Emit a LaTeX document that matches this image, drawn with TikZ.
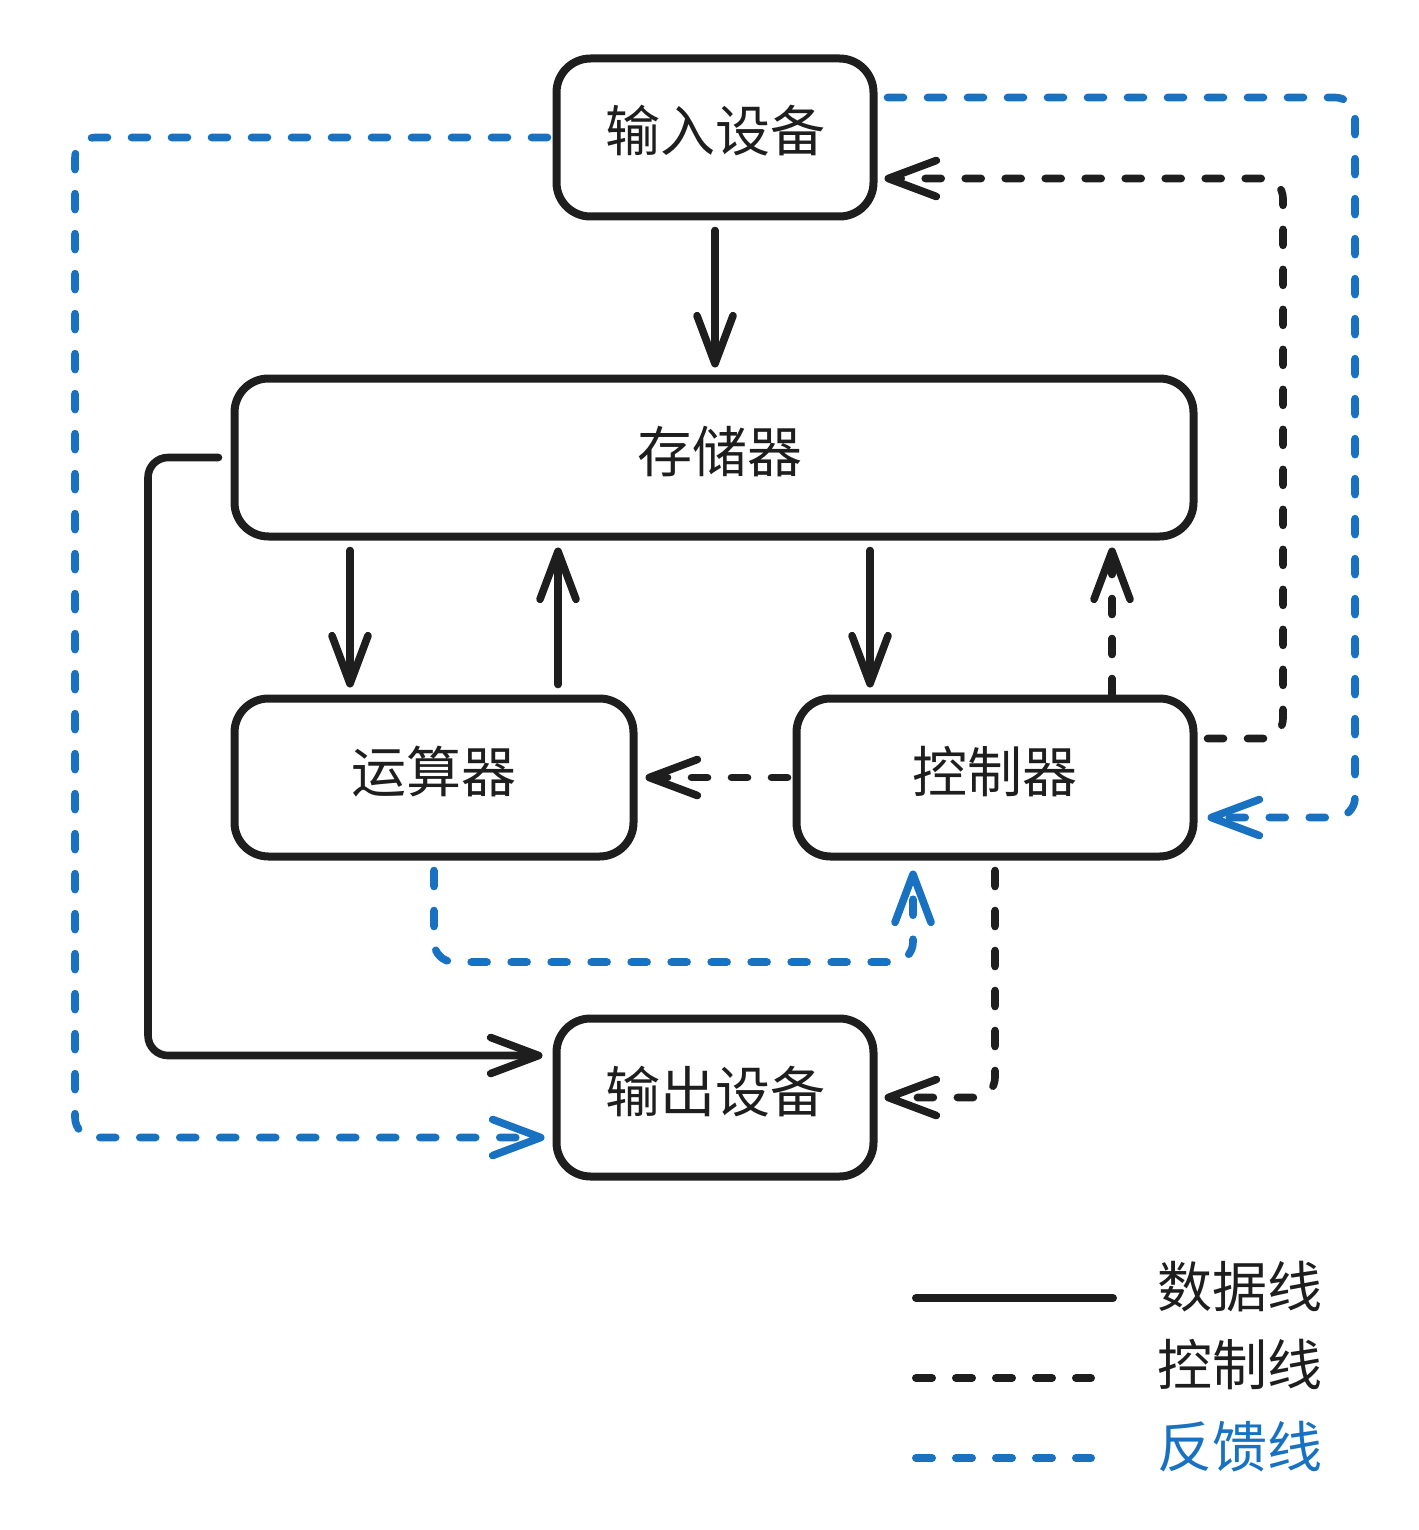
\documentclass[tikz,border=0pt]{standalone}
\usepackage{fontspec}
\newfontfamily\cjk{Noto Sans CJK SC}
\usetikzlibrary{arrows.meta,calc}
\definecolor{ink}{HTML}{1E1E1E}
\definecolor{fb}{HTML}{1971C2}
\begin{document}
\begin{tikzpicture}[x=0.5pt,y=-0.5pt,
  every node/.style={font=\cjk\fontsize{27.5pt}{30pt}\selectfont, text=ink},
  box/.style={draw=ink, fill=white, line width=4pt, rounded corners=17pt, minimum height=79pt, text height=24pt, text depth=9.5pt, inner sep=0pt},
  tip/.style={-{Straight Barb[length=24pt,width=18pt,round]}},
  link/.style={line width=3.8pt, line cap=round, line join=round, rounded corners=10pt, tip, shorten <=5pt, shorten >=3.5pt},
  data/.style={link, draw=ink},
  ctrl/.style={link, draw=ink, dash pattern=on 8pt off 12pt},
  feed/.style={link, draw=fb, dash pattern=on 8pt off 12pt},
  sample/.style={line width=4pt, line cap=round},
  legtext/.style={anchor=west, inner sep=0pt}
]
\fill[white] (0,0) rectangle (1418,1530);
\useasboundingbox (0,0) rectangle (1418,1530);

% nodes
\node[box, minimum width=158.5pt] (in)  at (715,137.5)  {输入设备};
\node[box, minimum width=479.5pt] (mem) at (714,457.5)  {\hspace*{5.5pt}存储器};
\node[box, minimum width=199.5pt] (alu) at (434,777.5)  {运算器};
\node[box, minimum width=198.5pt] (ctl) at (995,777.5)  {控制器};
\node[box, minimum width=158.5pt] (out) at (715,1097.5) {输出设备};

% data lines
\draw[data] (in.south) -- (in.south |- mem.north);
\draw[data] ($(mem.south west)+(119.5,0)$) -- ($(alu.north west)+(119.5,0)$);
\draw[data] ($(alu.north west)+(327.5,0)$) -- ($(mem.south west)+(327.5,0)$);
\draw[data] ($(mem.south west)+(639.5,0)$) -- ($(ctl.north west)+(77.5,0)$);
\draw[data, shorten <=6pt, shorten >=5pt] (mem.west) -- ++(-82.5,0) |- ($(out.west)+(0,-42)$);

% control lines
\draw[ctrl, shorten <=0pt] ($(ctl.north west)+(319.5,0)$) -- ($(mem.south west)+(881.5,0)$);
\draw[ctrl, shorten <=2.5pt, shorten >=4pt] (ctl.west) -- (alu.east);
\draw[ctrl] ($(ctl.east)+(0,-39)$) -- ++(85.5,0) |- ($(in.east)+(0,41)$);
\draw[ctrl] (ctl.south) |- (out.east);

% feedback lines
\draw[feed, shorten <=2.5pt, shorten >=4pt] (in.west) -- ++(-477.5,0) |- ($(out.west)+(0,40)$);
\draw[feed, shorten >=5pt] ($(in.east)+(0,-40)$) -- ++(477.5,0) |- ($(ctl.east)+(0,40)$);
\draw[feed, shorten >=5pt] (alu.south) -- ++(0,101.5) -| ($(ctl.south west)+(120.5,0)$);

% legend
\node[legtext] (l1) at (1157,1287) {数据线};
\node[legtext] (l2) at (1157,1365) {控制线};
\node[legtext, text=fb] (l3) at (1157,1447) {反馈线};
\draw[sample, draw=ink] ($(l1.west)+(-241,11)$) -- ($(l1.west)+(-44,11)$);
\draw[sample, draw=ink, dash pattern=on 8pt off 12pt] ($(l2.west)+(-241,13)$) -- ($(l2.west)+(-66,13)$);
\draw[sample, draw=fb, dash pattern=on 8pt off 12pt] ($(l3.west)+(-241,11)$) -- ($(l3.west)+(-66,11)$);
\end{tikzpicture}
\end{document}
